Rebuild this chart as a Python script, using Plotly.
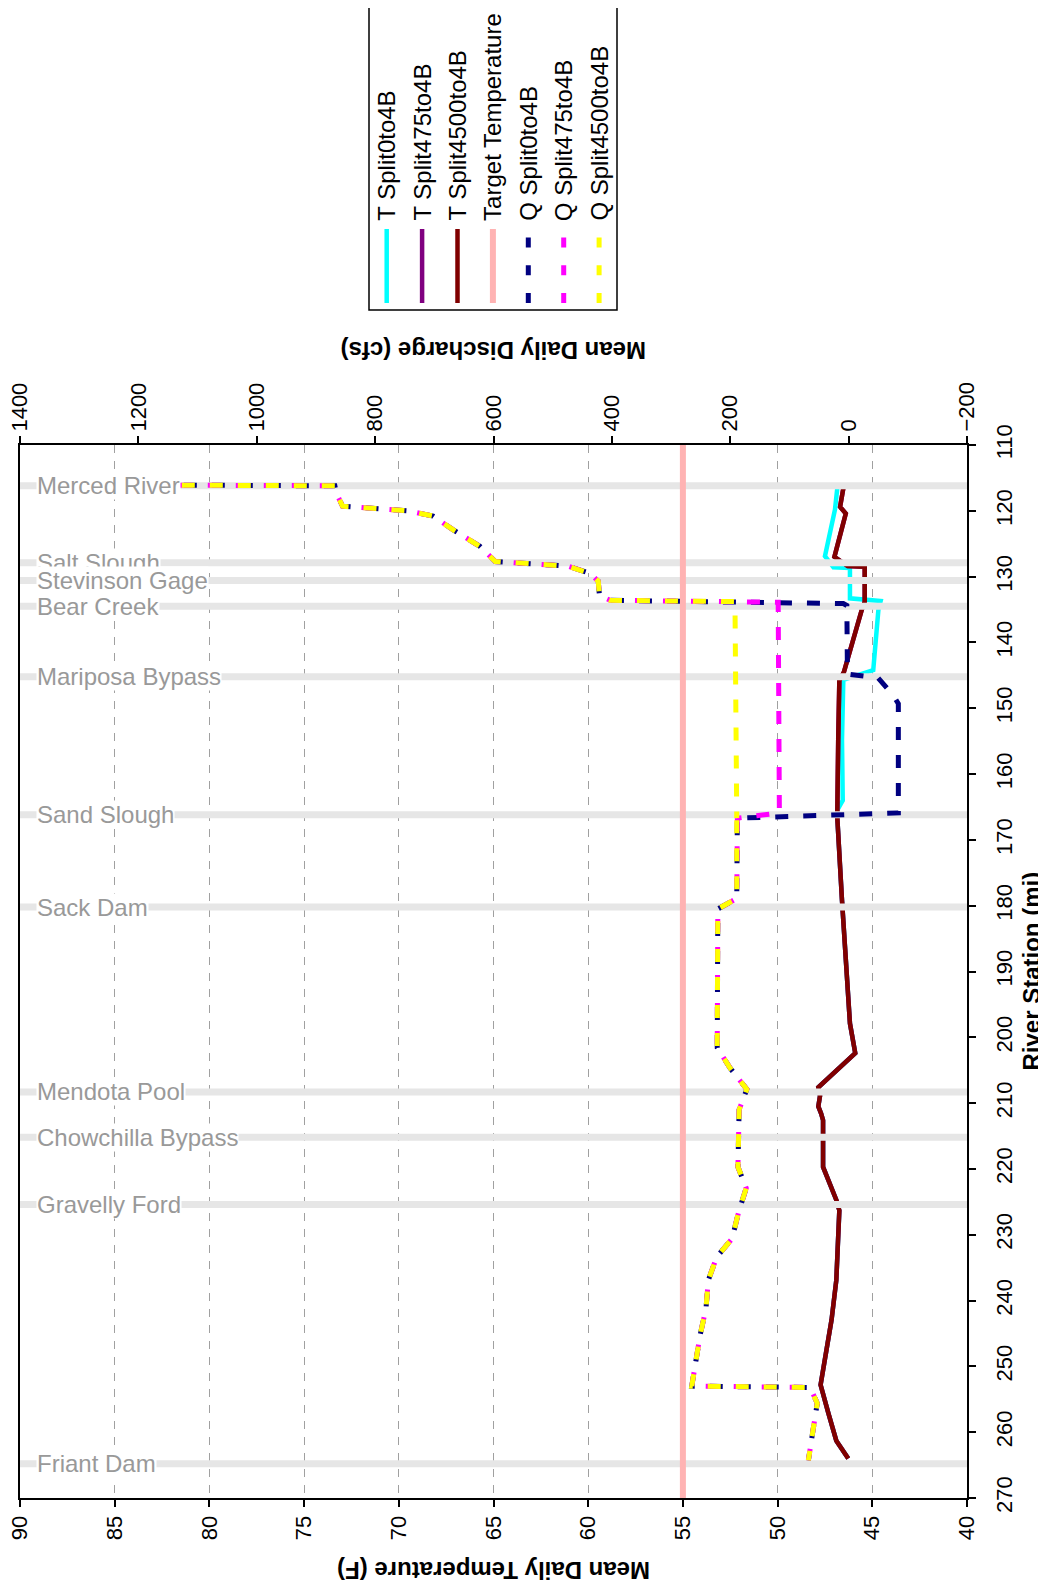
import plotly.graph_objects as go

# ---------------- data ----------------
STATION_NAMES = ["Merced River", "Salt Slough", "Stevinson Gage", "Bear Creek",
                 "Mariposa Bypass", "Sand Slough", "Sack Dam", "Mendota Pool",
                 "Chowchilla Bypass", "Gravelly Ford", "Friant Dam"]
STATION_MILES = [116.2, 127.9, 130.6, 134.5, 145.2, 166.2, 180.2, 208.3, 215.2, 225.4, 264.8]

TARGET_TEMP = 55

# temperature, reach shared by all runs below Sand Slough
T_DOWN_S = [166.5, 179.2, 197.9, 202.4, 207.6, 208.9, 210.5, 211.6, 212.6, 219.7,
            222.2, 224.7, 226.3, 236.9, 242.9, 249.1, 252.8, 257.1, 261.3, 264.0]
T_DOWN = [46.85, 46.6, 46.18, 45.9, 47.85, 47.76, 47.85, 47.7, 47.6, 47.6,
          47.25, 46.9, 46.74, 46.9, 47.15, 47.5, 47.73, 47.32, 46.9, 46.27]

T0_S = [116.6, 119.8, 126.9, 128.6, 128.7, 133.3, 133.7, 135.1, 144.2, 145.7, 154.8, 164.0, 165.5]
T0 = [46.85, 46.97, 47.5, 47.05, 46.18, 46.18, 44.56, 44.68, 44.95, 46.53, 46.6, 46.56, 46.85]

T4500_S = [116.6, 119.4, 120.4, 127.0, 128.4, 128.5, 133.8, 135.1, 144.5, 145.8, 154.8, 165.5]
T4500 = [46.53, 46.7, 46.4, 47.0, 46.3, 45.4, 45.4, 45.56, 46.5, 46.74, 46.8, 46.85]
T475_S = T4500_S
T475 = T4500

# discharge, reach shared upstream of Bear Creek and below Sand Slough
Q_UP_S = [116.1, 116.2, 117.4, 119.3, 120.0, 120.8, 122.9, 125.4, 127.7, 128.4, 129.5, 130.7, 132.9, 133.6]
Q_UP = [1130, 868, 865, 855, 745, 702, 668, 623, 597, 475, 437, 423, 421, 403]
Q_DOWN_S = [178.9, 180.5, 201.6, 204.7, 207.9, 211.0, 219.7, 222.9, 226.6, 230.6,
            233.4, 236.9, 241.2, 245.3, 249.6, 253.0, 253.2, 255.6, 259.6, 264.3]
Q_DOWN = [189, 221, 222, 200, 172, 185, 187, 173, 186, 197,
          223, 237, 241, 251, 259, 265, 65, 53, 60, 68]

Q0_MID_S = [134.1, 134.4, 144.8, 145.4, 148.0, 149.3, 165.9, 166.7]
Q0_MID = [9, 3, 2, -50, -75, -84, -84, 188]
Q475_MID_S = [133.9, 134.2, 165.9, 166.7]
Q475_MID = [119, 119, 117, 188]
Q4500_MID_S = [133.8, 134.2, 166.7]
Q4500_MID = [192, 192, 189]

LEGEND_NAMES = ["T Split0to4B", "T Split475to4B", "T Split4500to4B", "Target Temperature",
                "Q Split0to4B", "Q Split475to4B", "Q Split4500to4B"]

# ---------------- styling ----------------
FONT = "Liberation Sans, Arial, sans-serif"
PAGE_OFF = 8                      # body margin of the html page
W, H = 1046 - PAGE_OFF, 1587 - PAGE_OFF
PL, PR, PT, PB = 20, 967, 445, 1498  # plot area, page pixels

CYAN, PURPLE, MAROON = "#00FFFF", "#800080", "#800000"
PINK = "#FFB3B3"
NAVY, MAGENTA, YELLOW = "#000080", "#FF00FF", "#FFFF00"
DASH_NAVY = "0px,4px,13px,11px"
DASH_MAG = "13px,15px"
DASH_YEL = "0px,2px,13px,13px"


def px_x(x):
    return (x - PL) / (PR - PL)


def px_y(y):
    return (PB - y) / (PB - PT)


fig = go.Figure()

# temperature lines (under the station bands)
t_series = [
    (T0, T0_S, CYAN),
    (T475, T475_S, PURPLE),
    (T4500, T4500_S, MAROON),
]
for temps, miles, color in t_series:
    fig.add_trace(go.Scatter(
        x=temps + T_DOWN, y=miles + T_DOWN_S, mode="lines",
        line=dict(color=color, width=4.5), xaxis="x", yaxis="y",
        showlegend=False, hoverinfo="skip"
    ))

# station bands
band_x, band_y = [], []
for m in STATION_MILES:
    band_x += [90, 40, None]
    band_y += [m, m, None]
fig.add_trace(go.Scatter(
    x=band_x, y=band_y, mode="lines", line=dict(color="#E6E6E6", width=7),
    xaxis="x", yaxis="y", showlegend=False, hoverinfo="skip"
))

# target temperature
fig.add_trace(go.Scatter(
    x=[TARGET_TEMP, TARGET_TEMP], y=[110, 270], mode="lines",
    line=dict(color=PINK, width=6), xaxis="x", yaxis="y",
    showlegend=False, hoverinfo="skip"
))

# discharge lines; the reach below Sand Slough is its own trace so the
# dash pattern of the three runs lines up there (as in the source)
q_series = [
    (Q0_MID, Q0_MID_S, NAVY, DASH_NAVY),
    (Q475_MID, Q475_MID_S, MAGENTA, DASH_MAG),
    (Q4500_MID, Q4500_MID_S, YELLOW, DASH_YEL),
]
for flows, miles, color, dash in q_series:
    fig.add_trace(go.Scatter(
        x=Q_UP + flows, y=Q_UP_S + miles, mode="lines",
        line=dict(color=color, width=5, dash=dash), xaxis="x2", yaxis="y",
        showlegend=False, hoverinfo="skip"
    ))
for flows, miles, color, dash in q_series:
    fig.add_trace(go.Scatter(
        x=flows[-1:] + Q_DOWN, y=miles[-1:] + Q_DOWN_S, mode="lines",
        line=dict(color=color, width=5, dash=dash), xaxis="x2", yaxis="y",
        showlegend=False, hoverinfo="skip"
    ))

annotations = []
shapes = []

# station labels
for name, m in zip(STATION_NAMES, STATION_MILES):
    annotations.append(dict(
        text=name, x=px_x(36), xref="paper", xanchor="left",
        y=m, yref="y", yanchor="middle", showarrow=False,
        bgcolor="white", borderpad=0,
        font=dict(family=FONT, size=24, color="#999999")
    ))

# axis titles (rotated like the source page)
title_font = dict(family=FONT, size=24, color="black")
annotations.append(dict(text="<b>Mean Daily Temperature (F)</b>", x=0.5, xref="paper",
                        xanchor="center", y=px_y(1571), yref="paper", yanchor="middle",
                        textangle=180, showarrow=False, font=title_font))
annotations.append(dict(text="<b>Mean Daily Discharge (cfs)</b>", x=0.5, xref="paper",
                        xanchor="center", y=px_y(351), yref="paper", yanchor="middle",
                        textangle=180, showarrow=False, font=title_font))
annotations.append(dict(text="<b>River Station (mi)</b>", x=px_x(1031), xref="paper",
                        xanchor="center", y=0.5, yref="paper", yanchor="middle",
                        textangle=-90, showarrow=False, font=title_font))

# hand-built rotated legend
shapes.append(dict(type="rect", xref="paper", yref="paper",
                   x0=px_x(369), x1=px_x(617), y0=px_y(310), y1=px_y(3),
                   line=dict(color="black", width=1.5), fillcolor="white"))
legend_styles = [
    (CYAN, 4.5, "solid"), (PURPLE, 4.5, "solid"), (MAROON, 4.5, "solid"),
    (PINK, 6, "solid"),
    (NAVY, 5, "10px,17.7px"), (MAGENTA, 5, "10px,17.7px"), (YELLOW, 5, "10px,17.7px"),
]
for i, (name, (color, width, dash)) in enumerate(zip(LEGEND_NAMES, legend_styles)):
    lx = 386.7 + i * 35.4
    shapes.append(dict(type="line", xref="paper", yref="paper",
                       x0=px_x(lx), x1=px_x(lx), y0=px_y(303), y1=px_y(229),
                       line=dict(color=color, width=width, dash=dash)))
    annotations.append(dict(text=name, x=px_x(lx), xref="paper", xanchor="center",
                            y=px_y(223), yref="paper", yanchor="bottom",
                            textangle=-90, showarrow=False,
                            font=dict(family=FONT, size=24, color="black")))

tick_font = dict(family=FONT, size=22, color="black")
fig.update_layout(
    width=W, height=H,
    margin=dict(l=PL - PAGE_OFF, r=W - (PR - PAGE_OFF), t=PT - PAGE_OFF,
                b=H - (PB - PAGE_OFF), autoexpand=False),
    paper_bgcolor="white", plot_bgcolor="white",
    showlegend=False,
    xaxis=dict(range=[90, 40], tick0=40, dtick=5, side="bottom", tickangle=-90,
               ticks="outside", ticklen=7, tickwidth=1.5, tickcolor="black",
               showgrid=True, gridcolor="#A0A0A0", gridwidth=1, griddash="8px,8px",
               zeroline=False, showline=True, linecolor="black", linewidth=2,
               tickfont=tick_font, ticklabelstandoff=0, ticklabeloverflow="allow"),
    xaxis2=dict(range=[1400, -200], tick0=0, dtick=200, side="top", overlaying="x",
                anchor="y", tickangle=-90, ticks="outside", ticklen=7, tickwidth=1.5,
                tickcolor="black", showgrid=False, zeroline=False, showline=True,
                linecolor="black", linewidth=2, tickfont=tick_font, ticklabelstandoff=0,
                ticklabeloverflow="allow"),
    yaxis=dict(range=[270, 110], tick0=110, dtick=10, side="right", tickangle=-90,
               ticks="outside", ticklen=7, tickwidth=1.5, tickcolor="black",
               showgrid=False, zeroline=False, showline=True, mirror=True,
               linecolor="black", linewidth=2, tickfont=tick_font, ticklabelstandoff=10,
               ticklabeloverflow="allow"),
    annotations=annotations,
    shapes=shapes,
)

fig.write_html("out.html")
